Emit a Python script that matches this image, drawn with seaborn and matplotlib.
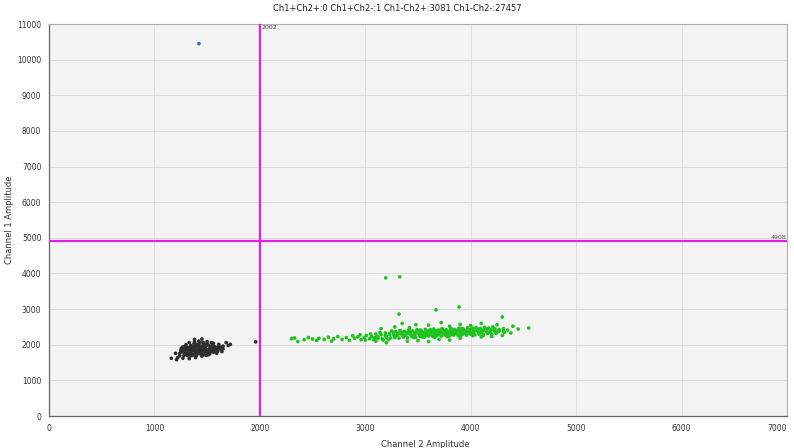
import numpy as np
import pandas as pd
import matplotlib
matplotlib.use("Agg")
import matplotlib.pyplot as plt
import seaborn as sns

# ---------------- data ----------------
title_text = "Ch1+Ch2+:0 Ch1+Ch2-:1 Ch1-Ch2+:3081 Ch1-Ch2-:27457"
x_label = "Channel 2 Amplitude"
y_label = "Channel 1 Amplitude"
x_ticks = [0, 1000, 2000, 3000, 4000, 5000, 6000, 7000]
y_ticks = [0, 1000, 2000, 3000, 4000, 5000, 6000, 7000, 8000, 9000, 10000, 11000]
ch2_threshold = 2000
ch2_threshold_label = "2002"
ch1_threshold = 4908
ch1_threshold_label = "4908"

# double negative cluster (black)
neg_pts = [(1300,1800),(1330,1850),(1360,1900),(1390,1950),(1420,2000),(1450,1960),(1480,1910),(1510,1860),
           (1540,1820),(1350,1760),(1380,1820),(1410,1870),(1440,1920),(1470,1980),(1500,2020),(1530,1950),
           (1560,1900),(1320,1920),(1345,1980),(1375,2030),(1405,1780),(1435,1830),(1465,1860),(1495,1790),
           (1525,1740),(1280,1860),(1290,1760),(1310,1700),(1340,1690),(1370,1730),(1400,1700),(1430,1750),
           (1460,1720),(1490,1700),(1520,1770),(1550,1980),(1580,1850),(1600,1930),(1620,1880),(1265,1800),
           (1255,1900),(1300,2000),(1330,2060),(1380,2080),(1420,2100),(1460,2070),(1500,2090),(1560,2040),
           (1610,2010),(1650,1960),(1240,1690),(1220,1640),(1270,1620),(1330,1610),(1390,1640),(1200,1760),
           (1700,1980),(1680,2060),(1720,2010),(1380,2150),(1450,2160),(1160,1620),(1210,1580),(1590,1760),
           (1640,1810),(1410,1950),(1440,1880),(1470,1810),(1360,1850),(1390,1760),(1420,1920),(1480,1940),
           (1520,1880),(1350,1950),(1280,1700),(1250,1840),(1310,1840),(1570,1950),(1600,1820),(1630,1930),
           (1320,1780),(1350,1830),(1380,1880),(1410,1830),(1440,1780),(1470,1760),(1500,1830),(1530,1900),
           (1560,1860),(1590,1880),(1340,1900),(1370,1960),(1400,2010),(1430,2050),(1470,2030),(1510,1990),
           (1540,2060),(1300,1880),(1290,1950),(1320,1740),(1360,1700),(1450,1680),(1510,1720),(1560,1790),
           (1610,1950),(1650,1890),(1240,1760),(1270,1940),(1480,1870),(1450,1810),
           (1960,2080)]
neg_x = [p[0] for p in neg_pts]
neg_y = [p[1] for p in neg_pts]

# Ch2 positive cluster (green)
pos_pts = [(3160,2170),(3240,2190),(3320,2185),(3400,2200),(3480,2215),(3560,2210),(3640,2230),(3720,2240),
           (3800,2245),(3880,2260),(3960,2270),(4040,2280),(4120,2290),(4200,2300),
           (3120,2230),(3200,2240),(3280,2225),(3360,2250),(3440,2255),(3520,2260),(3600,2270),(3680,2275),
           (3760,2290),(3840,2295),(3920,2310),(4000,2315),(4080,2330),(4160,2335),(4240,2345),(4320,2350),
           (3150,2280),(3230,2290),(3310,2300),(3390,2310),(3470,2305),(3550,2320),(3630,2335),(3710,2340),
           (3790,2350),(3870,2360),(3950,2370),(4030,2375),(4110,2390),(4190,2395),(4270,2400),(4350,2410),
           (3190,2330),(3270,2340),(3350,2345),(3430,2360),(3510,2365),(3590,2375),(3670,2385),(3750,2390),
           (3830,2400),(3910,2415),(3990,2420),(4070,2430),(4150,2440),(4230,2445),(4310,2455),
           (3250,2390),(3330,2400),(3410,2410),(3490,2420),(3570,2430),(3650,2440),(3730,2450),(3810,2460),
           (3890,2470),(3970,2475),(4050,2480),(4130,2490),(4210,2500),
           (3200,2205),(3280,2200),(3360,2215),(3440,2230),(3520,2235),(3600,2245),(3680,2255),(3760,2265),
           (3840,2270),(3920,2285),(4000,2295),(4080,2300),(4160,2315),(4240,2320),
           (3190,2260),(3270,2270),(3350,2280),(3430,2285),(3510,2295),(3590,2300),(3670,2310),(3750,2320),
           (3830,2325),(3910,2340),(3990,2345),(4070,2355),(4150,2365),(4230,2370),(4310,2380),
           (3230,2315),(3310,2325),(3390,2335),(3470,2340),(3550,2350),(3630,2355),(3710,2365),(3790,2375),
           (3870,2385),(3950,2390),(4030,2400),(4110,2410),(4190,2420),(4270,2425),
           (3290,2370),(3370,2375),(3450,2385),(3530,2395),(3610,2405),(3690,2410),(3770,2420),(3850,2430),
           (3930,2440),(4010,2445),(4090,2455),(4170,2465),
           (3560,2280),(3620,2290),(3660,2330),(3700,2300),(3740,2345),(3780,2310),(3820,2355),(3860,2320),
           (3900,2365),(3940,2330),(3980,2380),(3640,2370),(3700,2390),(3760,2400),(3820,2410),(3580,2260),
           (3880,2420),
           (3300,2260),(3340,2310),(3380,2265),(3420,2320),(3460,2270),(3500,2330),(3540,2290),(3580,2340),
           (3620,2320),(3660,2280),(3700,2350),(3740,2300),(3780,2360),(3820,2290),(3860,2350),(3900,2300),
           (3940,2360),(3980,2320),(4020,2340),(4060,2390),(4100,2350),(4140,2400),(4180,2360),(4220,2410),
           (4260,2370),(3420,2400),(3520,2410),(3620,2420),(3720,2430),(3820,2440),(3920,2450),(4020,2460),
           (3460,2200),(3540,2220),(3660,2210),(3780,2225),(3900,2240),(4020,2255),(4120,2260),
           (2300,2170),(2330,2190),(2360,2090),(2420,2140),(2460,2200),(2500,2160),(2540,2120),(2560,2180),
           (2610,2150),(2650,2210),(2680,2100),(2700,2170),(2740,2230),(2780,2150),(2820,2200),(2850,2120),
           (2880,2250),(2900,2180),(2930,2220),(2960,2140),(2990,2200),(3010,2260),(3040,2170),(3060,2230),
           (3080,2140),(3100,2300),(3050,2300),(3000,2130),(2950,2280),(3120,2180),(3090,2200),(3140,2340),
           (3170,2130),(3220,2150),(3100,2100),
           (3320,2860),(3670,2980),(3890,3060),(4300,2780),(4550,2470),(3350,2600),(3480,2560),(3720,2620),
           (3900,2570),(4100,2600),(4250,2560),(4400,2520),(4450,2440),(4380,2330),(3600,2550),(3280,2500),
           (3420,2480),(3800,2520),(4000,2540),(3150,2450),(3200,2060),(3500,2120),(3700,2150),(3900,2180),
           (4100,2220),(4300,2260),(3400,2100),(3600,2090),(3800,2130),(4200,2230),
           (3194,3876),(3327,3904)]
pos_x = [p[0] for p in pos_pts]
pos_y = [p[1] for p in pos_pts]

# Ch1 positive droplet (blue)
ch1_x = [1422]
ch1_y = [10450]

cluster_names = ["Ch1-Ch2-", "Ch1-Ch2+", "Ch1+Ch2-"]
cluster_colors = ["#2e2e2e", "#1ec21e", "#4a5ccc"]

df = pd.DataFrame({
    "ch2": neg_x + pos_x + ch1_x,
    "ch1": neg_y + pos_y + ch1_y,
    "cluster": [cluster_names[0]] * len(neg_x) + [cluster_names[1]] * len(pos_x) + [cluster_names[2]] * len(ch1_x),
})

# ---------------- plot ----------------
sns.set_theme(style="whitegrid")
plt.rcParams['font.family'] = ['DejaVu Sans']

fig = plt.figure(figsize=(7.94, 4.48), dpi=100)
ax = fig.add_axes([49/794, 1 - 416/448, (787 - 49)/794, (416 - 24)/448])
ax.set_facecolor("#f3f3f3")

sns.scatterplot(data=df, x="ch2", y="ch1", hue="cluster", hue_order=cluster_names,
                palette=dict(zip(cluster_names, cluster_colors)), s=7, linewidth=0,
                legend=False, ax=ax, zorder=3)

ax.axvline(ch2_threshold, color="#e21fe2", lw=1.6, zorder=4)
ax.axhline(ch1_threshold, color="#e21fe2", lw=1.6, zorder=4)
ax.text(ch2_threshold + 15, 10980, ch2_threshold_label, fontsize=4.5, color="#444444", va="top", ha="left")
ax.text(6990, ch1_threshold + 40, ch1_threshold_label, fontsize=4.5, color="#555555", va="bottom", ha="right")

ax.set_xlim(0, 7000)
ax.set_ylim(0, 11000)
ax.set_xticks(x_ticks)
ax.set_yticks(y_ticks)
ax.set_xticklabels([str(t) for t in x_ticks])
ax.set_yticklabels([str(t) for t in y_ticks])
ax.tick_params(axis="both", labelsize=5.5, colors="#333333", length=3, width=0.6,
               direction="inout", pad=4)
xt = ax.get_xticklabels()
xt[-1].set_horizontalalignment("right")
ax.grid(True, color="#dcdcdc", lw=0.7)
for side in ["left", "bottom"]:
    ax.spines[side].set_color("#666666")
    ax.spines[side].set_linewidth(0.9)
for side in ["top", "right"]:
    ax.spines[side].set_color("#b0b0b0")
    ax.spines[side].set_linewidth(0.8)

ax.set_xlabel(x_label, fontsize=6, color="#333333")
ax.set_ylabel(y_label, fontsize=6, color="#333333")
ax.xaxis.set_label_coords(0.51, -0.06)
ax.yaxis.set_label_coords(-0.048, 0.5)
fig.text(0.5, 0.98, title_text, fontsize=6, color="#222222", ha="center", va="center")

fig.savefig("out.png", dpi=100)
